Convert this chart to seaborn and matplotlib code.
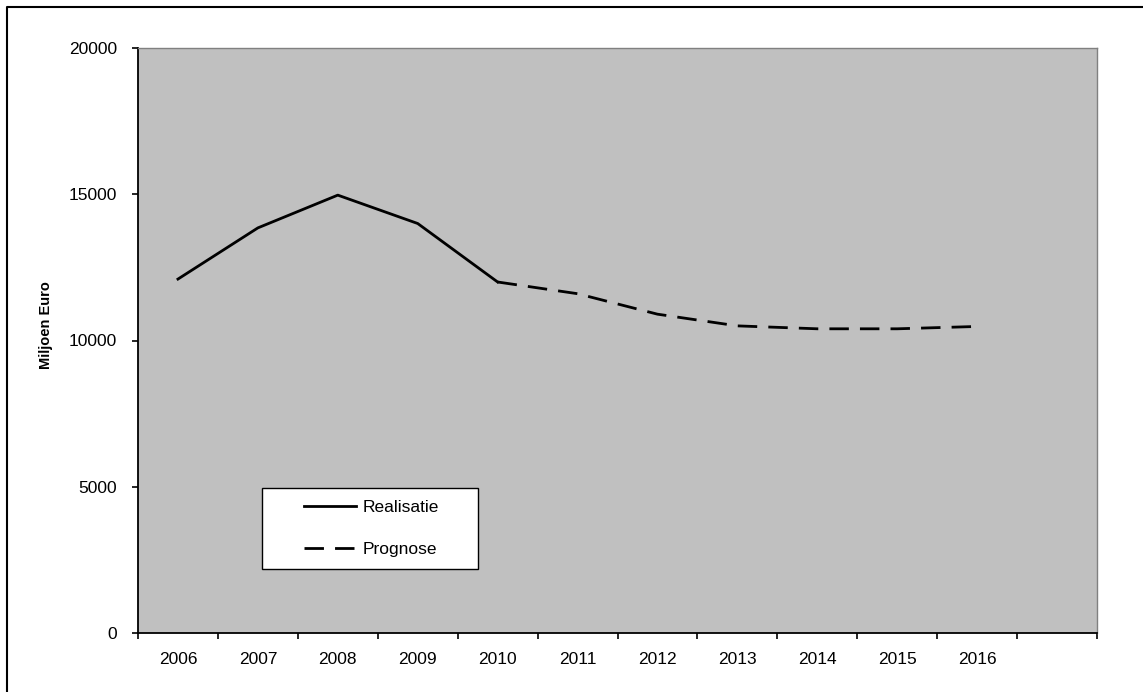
import matplotlib
matplotlib.use("Agg")
import matplotlib.pyplot as plt
from matplotlib.patches import Rectangle
from matplotlib.lines import Line2D
import seaborn as sns
import pandas as pd
import numpy as np

# Yearly totals (million euro): realised figures and forecast
years = [2006, 2007, 2008, 2009, 2010, 2011, 2012, 2013, 2014, 2015, 2016]
realisatie_years = [2006, 2007, 2008, 2009, 2010]
realisatie = [12100, 13850, 14970, 14000, 12000]
prognose_years = [2010, 2011, 2012, 2013, 2014, 2015, 2016]
prognose = [12000, 11600, 10900, 10500, 10400, 10400, 10480]
n_slots = 12  # category axis has one empty slot after 2016

plt.rcParams["font.family"] = ["Liberation Sans", "DejaVu Sans"]

pos = {y: i + 0.5 for i, y in enumerate(years)}
df = pd.concat([
    pd.DataFrame({"pos": [pos[y] for y in realisatie_years], "waarde": realisatie,
                  "reeks": "Realisatie"}),
    pd.DataFrame({"pos": [pos[y] for y in prognose_years], "waarde": prognose,
                  "reeks": "Prognose"}),
], ignore_index=True)

fig = plt.figure(figsize=(11.43, 6.92), dpi=100, facecolor="white")
W, H = 1143, 692
ax = fig.add_axes([138 / W, 1 - 633 / H, (1097 - 138) / W, (633 - 48) / H])
ax.set_facecolor("#c0c0c0")

sns.lineplot(data=df, x="pos", y="waarde", style="reeks",
             dashes={"Realisatie": "", "Prognose": (7, 4)},
             color="black", linewidth=2.0, sort=False, ax=ax, legend=True)

ax.set_xlim(0, n_slots)
ax.set_ylim(0, 20000)
ax.set_yticks([0, 5000, 10000, 15000, 20000])
ax.set_xticks(np.arange(0, n_slots + 1))
ax.set_xticklabels([])
ax.set_xticks([pos[y] for y in years], minor=True)
ax.set_xticklabels([str(y) for y in years], minor=True)
ax.tick_params(axis="x", which="major", direction="out", length=4, width=1.2, color="black")
ax.tick_params(axis="x", which="minor", length=0, pad=13.5, labelsize=12.5)
ax.tick_params(axis="y", direction="out", length=4, width=1.2, color="black",
               pad=11, labelsize=12.5)
ax.set_xlabel("")
ax.set_ylabel("Miljoen Euro", fontsize=10.5, fontweight="bold", va="center")
ax.yaxis.set_label_coords((46 - 138) / 959, (633 - 325) / 585)
ax.grid(False)

for side in ("left", "bottom"):
    ax.spines[side].set_color("black")
    ax.spines[side].set_linewidth(1.3)
for side in ("top", "right"):
    ax.spines[side].set_color("#808080")
    ax.spines[side].set_linewidth(1.0)

# Legend: white box with the two line styles
handles, labels = ax.get_legend_handles_labels()
keep = [(h, l) for h, l in zip(handles, labels) if l in ("Realisatie", "Prognose")]
old = ax.get_legend()
if old is not None:
    old.remove()
ax.add_patch(Rectangle(((262 - 138) / 959, (633 - 569) / 585), 216 / 959, 81 / 585,
                       transform=ax.transAxes, facecolor="white", edgecolor="black",
                       linewidth=1.0, zorder=5))
leg = ax.legend([h for h, _ in keep], [l for _, l in keep], loc="center left",
                bbox_to_anchor=((304 - 138) / 959, (633 - 528.5) / 585),
                frameon=False, fontsize=12.5, handlelength=3.0, handletextpad=0.35,
                labelspacing=1.5, borderpad=0, borderaxespad=0)
leg.set_zorder(6)

# Outer frame of the figure
fig.add_artist(Line2D([7 / W, 7 / W, 1.0], [0.0, 1 - 7 / H, 1 - 7 / H],
                      transform=fig.transFigure, color="black", linewidth=1.5))

fig.savefig("out.png", dpi=100, facecolor="white")
